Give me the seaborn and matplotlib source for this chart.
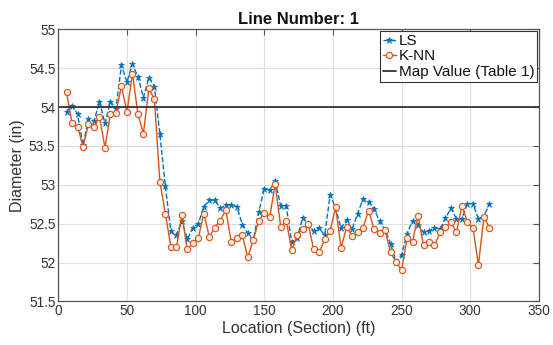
import numpy as np
import pandas as pd
import matplotlib
matplotlib.use("Agg")
import matplotlib.pyplot as plt
import seaborn as sns

# ---- data ----
location = list(range(6, 315, 4))
ls_values = [53.94, 54.02, 53.91, 53.51, 53.85, 53.82, 54.07, 53.79, 54.07, 53.98,
             54.54, 54.32, 54.55, 54.39, 54.12, 54.38, 54.26, 53.65, 52.98, 52.40,
             52.35, 52.54, 52.30, 52.45, 52.50, 52.72, 52.80, 52.80, 52.70, 52.74,
             52.74, 52.72, 52.49, 52.38, 52.29, 52.65, 52.95, 52.93, 53.05, 52.73,
             52.73, 52.26, 52.32, 52.58, 52.50, 52.40, 52.45, 52.35, 52.87, 52.70,
             52.44, 52.55, 52.43, 52.63, 52.82, 52.78, 52.69, 52.53, 52.42, 52.24,
             52.01, 52.10, 52.37, 52.54, 52.49, 52.39, 52.41, 52.45, 52.43, 52.57,
             52.70, 52.56, 52.56, 52.76, 52.76, 52.56, 52.60, 52.75]
knn_values = [54.19, 53.79, 53.75, 53.49, 53.78, 53.74, 53.87, 53.48, 53.91, 53.93,
              54.27, 53.94, 54.43, 53.91, 53.66, 54.24, 54.10, 53.04, 52.63, 52.20,
              52.20, 52.61, 52.17, 52.25, 52.32, 52.63, 52.33, 52.45, 52.54, 52.68,
              52.26, 52.32, 52.35, 52.07, 52.29, 52.54, 52.64, 52.59, 53.01, 52.46,
              52.54, 52.16, 52.36, 52.43, 52.50, 52.17, 52.13, 52.30, 52.41, 52.71,
              52.19, 52.46, 52.34, 52.39, 52.45, 52.67, 52.43, 52.38, 52.42, 52.13,
              52.01, 51.90, 52.32, 52.27, 52.60, 52.22, 52.27, 52.22, 52.39, 52.46,
              52.52, 52.39, 52.73, 52.52, 52.45, 51.97, 52.59, 52.45]
map_value = 54.0
series_labels = ["LS", "K-NN", "Map Value (Table 1)"]
title_text = "Line Number: 1"
x_label = "Location (Section) (ft)"
y_label = "Diameter (in)"
x_ticks = [0, 50, 100, 150, 200, 250, 300, 350]
y_ticks = [51.5, 52, 52.5, 53, 53.5, 54, 54.5, 55]

df = pd.DataFrame({"loc": location, "LS": ls_values, "KNN": knn_values})

sns.set_theme(style="whitegrid")
plt.rcParams['font.family'] = ['Liberation Sans', 'DejaVu Sans']

blue = "#0072BD"
orange = "#D95319"

fig = plt.figure(figsize=(5.53, 3.45), dpi=100)
ax = fig.add_axes([0.1054, 0.1261, 0.869, 0.789])

sns.lineplot(data=df, x="loc", y="LS", ax=ax, color=blue, linestyle="--",
             linewidth=1.0, marker="*", markersize=5, markeredgewidth=0.5,
             markerfacecolor=blue, markeredgecolor=blue, label=series_labels[0])
sns.lineplot(data=df, x="loc", y="KNN", ax=ax, color=orange, linestyle="-",
             linewidth=1.0, marker="o", markersize=4.5, markeredgewidth=0.8,
             markerfacecolor="#fbeae2", markeredgecolor=orange, label=series_labels[1])
ax.axhline(map_value, color="#333333", linewidth=1.3, label=series_labels[2])

ax.set_xlim(0, 350)
ax.set_ylim(51.5, 55)
ax.set_xticks(x_ticks)
ax.set_yticks(y_ticks)
ax.set_xticklabels([str(t) for t in x_ticks])
ax.set_yticklabels([f"{t:g}" for t in y_ticks])

ax.grid(True, color="#dedede", linewidth=0.8)
for s in ax.spines.values():
    s.set_visible(True)
    s.set_color("#555555")
    s.set_linewidth(0.9)
ax.tick_params(axis="both", direction="in", length=4, width=0.8, color="#555555",
               top=True, right=True, labelsize=9.8, labelcolor="#333333", pad=2)

ax.set_title(title_text, fontsize=12, fontweight="bold", color="#111111", pad=4)
ax.set_xlabel(x_label, fontsize=11.5, color="#333333", labelpad=2)
ax.set_ylabel(y_label, fontsize=11.5, color="#333333", labelpad=3)

leg = ax.legend(loc="upper right", fontsize=11, frameon=True, fancybox=False,
                borderaxespad=0.1, handlelength=0.8, handletextpad=0.2,
                labelspacing=0.1, borderpad=0.2, framealpha=1)
leg.get_frame().set_edgecolor("#333333")
leg.get_frame().set_linewidth(0.8)
for t in leg.get_texts():
    t.set_color("#111111")

fig.savefig("out.png", dpi=100)
